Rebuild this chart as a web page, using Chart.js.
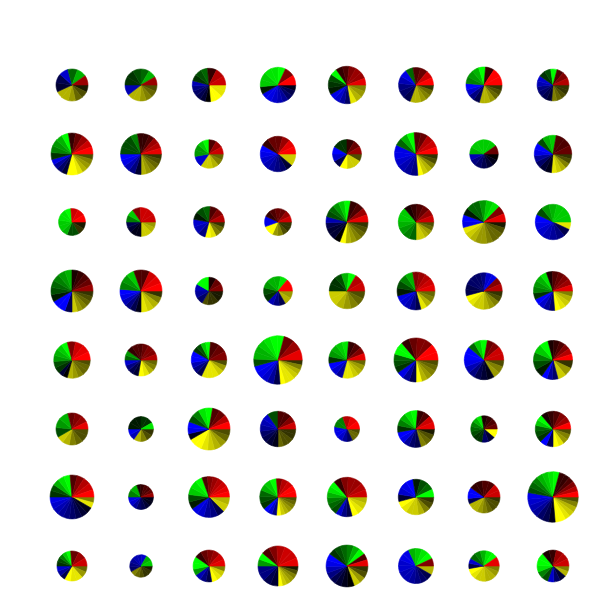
<!DOCTYPE html>
<html>
<head>
<meta charset="utf-8">
<script src="https://cdn.jsdelivr.net/npm/chart.js@4"></script>
<style>
  html, body { margin: 0; background: #fff; }
  #grid { position: relative; width: 598px; height: 598px; overflow: hidden; }
  #grid canvas { position: absolute; }
</style>
</head>
<body>
<div id="grid"></div>
<script>
// one entry per pie, row by row (8 x 8)
const radii = [
  16.3, 16.3, 17, 18, 19, 17.7, 18.3, 16.2,
  21.2, 20.7, 14.5, 18, 14.7, 21.7, 14.5, 19,
  13.7, 14.7, 15.7, 13.7, 21.3, 18, 21.7, 18,
  21.3, 21.3, 14, 14.7, 18, 19.2, 18.5, 19.8,
  18.5, 16.3, 18, 24.5, 18.5, 22.3, 20, 19.8,
  16.3, 12.7, 21.3, 18, 12.8, 18.7, 13.5, 18,
  22.2, 12.7, 20.7, 18.5, 20, 18, 16.3, 25.5,
  15.3, 11.5, 16.2, 20.3, 21.2, 17.8, 15.5, 16.2
];

// degrees taken by each colour group, going counter-clockwise from 3 o'clock
const redShare = [
  35, 30, 95, 65, 125, 100, 85, 75,
  100, 100, 90, 150, 90, 95, 35, 80,
  95, 125, 85, 155, 80, 130, 45, 0,
  90, 110, 90, 50, 60, 100, 45, 110,
  105, 145, 85, 75, 85, 130, 80, 105,
  105, 0, 80, 90, 110, 85, 100, 130,
  95, 110, 110, 95, 130, 0, 145, 75,
  95, 0, 145, 140, 35, 25, 35, 130
];
const greenShare = [
  70, 150, 70, 145, 85, 25, 90, 70,
  95, 80, 100, 0, 60, 60, 145, 65,
  205, 55, 85, 0, 85, 140, 115, 155,
  120, 65, 60, 175, 120, 95, 0, 95,
  120, 35, 65, 120, 105, 85, 60, 130,
  105, 180, 80, 35, 60, 105, 160, 95,
  85, 70, 105, 125, 105, 100, 0, 95,
  85, 60, 70, 40, 110, 90, 115, 120
];
const blueShare = [
  100, 38, 110, 150, 70, 125, 80, 120,
  60, 90, 45, 170, 90, 120, 180, 120,
  0, 90, 85, 45, 85, 0, 35, 180,
  60, 95, 90, 75, 0, 90, 150, 70,
  30, 80, 95, 80, 65, 55, 160, 50,
  0, 55, 50, 145, 125, 95, 60, 45,
  150, 180, 100, 45, 50, 95, 60, 105,
  60, 150, 65, 90, 145, 215, 40, 70
];
const yellowShare = [
  155, 142, 85, 0, 80, 110, 105, 95,
  105, 90, 125, 40, 120, 85, 0, 95,
  60, 90, 105, 160, 110, 90, 165, 25,
  90, 90, 120, 60, 180, 75, 165, 85,
  105, 100, 115, 85, 105, 90, 60, 75,
  150, 125, 150, 90, 65, 75, 40, 90,
  30, 0, 45, 95, 75, 165, 155, 85,
  120, 150, 80, 90, 70, 30, 170, 40
];

// brightness of each wedge in a group, 0 (black) to 10 (full colour)
const redShades = [
  [6], [6], [8,7,2], [10,5], [9,6,6,5,3,2], [10,8,4,3], [10,10,2], [7,5,3],
  [10,8,6,4,2], [9,7,6,3,2,2], [8,6,3], [10,9,6,4,4,2], [6,4,2], [10,8,7,4,3], [4], [4,3,3],
  [10,9,8], [8,8,8,5], [7,5,3], [8,6,4,4,3,2], [9,6,3,2], [8,6,4,3,2,1], [9,5], [],
  [6,4,3,2,1], [10,9,8,3,3], [5,4,1], [10], [8,7], [9,8,7,6,5], [7,5], [9,6,5,4,3,1],
  [10,9,8,5], [7,5,5,4,3,3,2], [5,4,3], [9,6,4], [9,5,3,2], [10,10,5,5,4,2], [8,8,5,4], [10,7,5,3,2,1],
  [9,6,5,4], [], [10,7,4,3], [8,5,3,3], [10,9,7], [9,8,3,2], [4,3,2,1], [10,6,5,3,2,1],
  [10,8,7,5,3], [6,4,3,3,2,1], [10,9,8,7,6,5,3], [10,10,8,7,5], [8,7,6,6,5,2], [], [8,8,3,3,2,2], [10,7,5,3,2,2],
  [8,6,4], [], [9,8,6,5,4,2], [9,8,8,7,5,3], [9,3], [5], [9], [8,7,6,2,1]
];
const greenShades = [
  [7,4], [7,4,3,2,2], [4,3,2], [10,9,9,8,8,1], [10,3,2,1], [4], [10,7,6,5], [10,3,2],
  [10,7,6,5,2], [5,3,3,3], [10,8,6,6], [], [2,2], [10,7,4], [8,8,8,8,7], [8,7,3],
  [10,9,9,8,8,7,3,3], [8,5], [4,3,1], [], [10,8,6,4,3], [8,8,7,6,5,4], [9,8,6,4,4,1], [8,8,8,7,6,3],
  [7,6,5,4,3,1], [8,6,5], [10], [9,7,7,6,3,2], [10,7,3,2,2], [7,5,3,1], [], [9,7,6,5,2],
  [10,8,7,6,3,2], [6,4], [10,8,3,2], [10,10,9,8,7,7,3], [9,8,7,6,2], [10,10,4,3,2], [10,8,4], [10,8,5,3,1],
  [7,6,3], [9,2,2,1,1,1], [10,9,5,3], [3], [5,5], [10,9,7,5,2], [9,7,5,4,3,2,2], [10,8,4,3,2],
  [10,9,7,3,2], [7,5], [10,9,8,3,1], [10,8,7,4,3,2], [10,9,7,5,4,3], [10,4,3,1], [], [10,9,8,7,5,4,3],
  [10,8,5,3,2], [8,7], [10,10,6], [10,6], [10,7,5,4,3,2], [10,9,8,7], [10,9,7,5,4], [10,10,9,5,3]
];
const blueShades = [
  [8,3,2], [7], [7,5,4,3,2,0], [9,9,8,7,6,4,3,1], [9,8,6,4], [9,7,5,4,3], [10,8,5,3], [8,7,5,4,3,2],
  [9,6,4,2], [10,9,7,5,2], [8], [10,9,8,7,6,5,4,2], [10,8,3], [9,9,8,7,6,5], [7,5,4,3,2,1,0], [10,9,6,4,2,1],
  [], [3,2,1,1], [8,7,5], [9], [7,3,2,2,0], [], [10,9], [10,9,8,7,6,5,3],
  [10,10,3], [10,9,7,5,3,1], [7,6,4], [7,5,3], [], [9,8,7,5,3], [9,8,5,4,4,4,3,3], [10,8,6,4],
  [2,0], [8,5,3,2], [10,10,7,5,3], [10,9,8,6,3], [10,8,6], [9,6,3], [10,10,9,7,5,3,2,1], [10,6,4],
  [], [9,7], [10,9,1], [8,7,6,4,3,2,1], [9,9,8,6,4], [10,9,6,4,3], [4,2], [10,3],
  [9,8,7,6,5,4,3,2,1], [9,8,6,4,3,2,1,1], [9,8,6,5,3], [10,8,5], [8,5,3], [10,9,8,2], [10,10,3], [9,8,7,6,4,3,1],
  [8,6,3], [8,7,7,6,5,4], [7,5,3], [5,5,3,2], [10,9,7,5,3,2,1,0], [9,9,8,8,7,7,6,5,4,3], [8,3], [8,4,2]
];
const yellowShades = [
  [7,7,6,4,3,1], [7,7,6,5,4,3], [10,10,9,9], [], [9,7,6,5], [7,7,6,5,4,2], [7,7,6,4,3,2], [5,4,3,2,2],
  [10,10,9,7,6,5,3], [7,6,5,4,3,2], [8,8,7,5,4], [8], [10,8,8,3], [10,8,7,5,3,2], [], [9,8,7,5,3,2],
  [2,1], [8,8,7,6], [10,9,5,4,2], [10,10,6,5,3,2,2], [10,7,6,5,4,3,2], [8,8,7,6,4,3], [9,8,7,6,6,5,4,4,3,1], [9],
  [8,6,5,4,3,2], [9,8,7,5,2], [3,2,2,1,1], [7,6], [8,8,7,6,5,4,3], [9,7,5,4], [10,9,8,8,7,6,5,3,2], [10,9,8,7,5],
  [7,6,5,4,4,3], [10,9,7,5,4], [9,9,9,8,6,3], [10,9,9,8,7,5,2], [9,9,8,7,6,4], [10,7,6,5,4,3], [6,5,3], [8,6,2],
  [8,7,5,4,3,3], [7,5,3,2], [10,10,9,8,7,6,4,3], [4,3,3,2,2], [4,4,3], [5,4,3,1], [10,10], [10,9,6,5,3],
  [9,5], [], [8,7], [10,8,7,6,5,4,3], [10,9,8,7], [10,9,8,8,7,5,3,2], [7,7,6,5,4,3,3,2], [10,10,9,8,7,5,3],
  [10,9,9,6,4], [5,4,3,2,2,1], [10,9,8,5], [10,8,7,6,5,3,1], [8,6,3,2], [7], [10,9,8,8,7,7,6,5], [7,5]
];

const groups = [
  { share: redShare, shades: redShades, rgb: [1, 0, 0] },
  { share: greenShare, shades: greenShades, rgb: [0, 1, 0] },
  { share: blueShare, shades: blueShades, rgb: [0, 0, 1] },
  { share: yellowShare, shades: yellowShades, rgb: [1, 1, 0] }
];

function shadeColor(rgb, shade) {
  const v = Math.round(shade * 25.5);
  return 'rgb(' + rgb.map(c => c * v).join(',') + ')';
}

const grid = document.getElementById('grid');
const size = 68;

radii.forEach((radius, i) => {
  const row = Math.floor(i / 8);
  const col = i % 8;
  const values = [];
  const colors = [];
  groups.forEach(g => {
    g.shades[i].forEach(shade => {
      values.push(g.share[i] / g.shades[i].length);
      colors.push(shadeColor(g.rgb, shade));
    });
  });
  // Chart.js only sweeps clockwise, the reference runs the other way
  values.reverse();
  colors.reverse();

  const canvas = document.createElement('canvas');
  canvas.width = size;
  canvas.height = size;
  canvas.style.left = Math.round(72 + col * 68.7 - size / 2) + 'px';
  canvas.style.top = Math.round(85 + row * 68.7 - size / 2) + 'px';
  grid.appendChild(canvas);

  new Chart(canvas, {
    type: 'pie',
    data: {
      datasets: [{
        data: values,
        backgroundColor: colors,
        borderColor: colors,
        borderWidth: 0.6   // same colour as the fill, hides the seams between wedges
      }]
    },
    options: {
      responsive: false,
      animation: false,
      devicePixelRatio: 1,
      radius: radius - 0.3,
      rotation: 90,
      plugins: { legend: { display: false }, tooltip: { enabled: false } }
    }
  });
});
</script>
</body>
</html>
